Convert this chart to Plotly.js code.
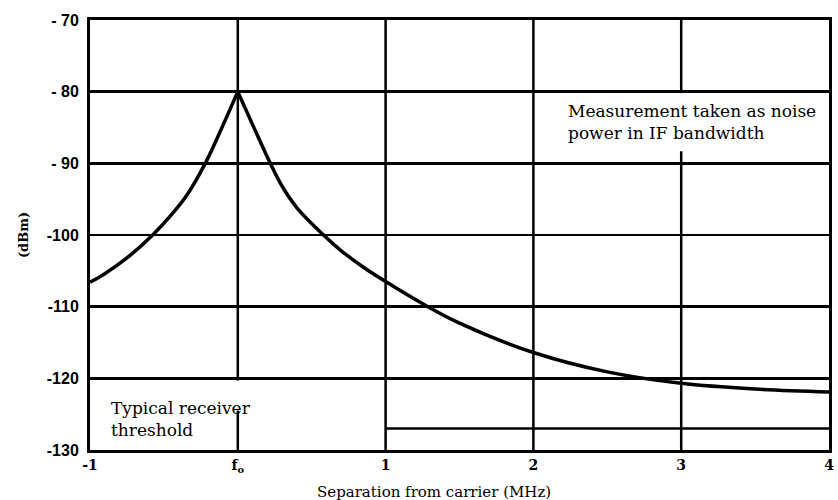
<!DOCTYPE html>
<html>
<head>
<meta charset="utf-8">
<script src="https://cdn.plot.ly/plotly-3.0.1.min.js"></script>
<style>
  html, body { margin: 0; padding: 0; background: #ffffff; }
  #chart { width: 838px; height: 500px; }
</style>
</head>
<body>
<div id="chart"></div>
<script>
// Noise power around the carrier, lower side (f0 - 1 MHz .. f0)
const lowerOffsetMHz = [-1, -0.9, -0.75, -0.576, -0.45, -0.35, -0.22, -0.12, 0];
const lowerPowerDbm  = [-106.6, -105.4, -103.2, -100, -97.2, -94.6, -90, -85.6, -80];

// Upper side (f0 .. f0 + 4 MHz)
const upperOffsetMHz = [0, 0.1, 0.22, 0.3, 0.4, 0.58, 0.7, 0.85, 1, 1.26, 1.5, 2, 2.5, 3, 3.5, 4];
const upperPowerDbm  = [-80, -84.6, -90, -93.2, -96.2, -100, -102.2, -104.5, -106.5, -109.7, -112.3, -116.4, -119.1, -120.7, -121.5, -121.9];

// Typical receiver threshold level
const thresholdOffsetMHz = [1, 4];
const thresholdDbm       = [-127, -127];

// Axis ticks
const xTickValues = [-1, 0, 1, 2, 3, 4];
const xTickLabels = ['-1', 'f<sub>o</sub>', '1', '2', '3', '4'];
const yTickValues = [-70, -80, -90, -100, -110, -120, -130];
const yTickLabels = ['- 70', '- 80', '- 90', '-100', '-110', '-120', '-130'];

// Vertical grid lines, each broken where a text note sits
const verticalGridX = [0, 1, 2, 3];
const verticalGridBreaks = { 0: [-124.5, -120.3], 3: [-88.3, -80.2] };

const ink = '#000000';
const shapes = [];
verticalGridX.forEach(function (x) {
  const gap = verticalGridBreaks[x];
  const pieces = gap ? [[-130, gap[0]], [gap[1], -70]] : [[-130, -70]];
  pieces.forEach(function (p) {
    shapes.push({
      type: 'line', xref: 'x', yref: 'y', layer: 'below',
      x0: x, x1: x, y0: p[0], y1: p[1],
      line: { color: ink, width: 2.5 }
    });
  });
});

const curveLine = { color: ink, width: 3.5, shape: 'spline', smoothing: 1 };
const traces = [
  { x: lowerOffsetMHz, y: lowerPowerDbm, mode: 'lines', line: curveLine, hoverinfo: 'skip' },
  { x: upperOffsetMHz, y: upperPowerDbm, mode: 'lines', line: curveLine, hoverinfo: 'skip' },
  { x: thresholdOffsetMHz, y: thresholdDbm, mode: 'lines',
    line: { color: ink, width: 2.5 }, hoverinfo: 'skip' }
];

const serif = 'DejaVu Serif, serif';
const layout = {
  width: 838, height: 500,
  margin: { l: 90, r: 9, t: 20, b: 50 },
  paper_bgcolor: '#ffffff', plot_bgcolor: '#ffffff',
  showlegend: false,
  shapes: shapes,
  xaxis: {
    range: [-1, 4], showgrid: false, zeroline: false,
    showline: true, mirror: true, linecolor: ink, linewidth: 3,
    tickmode: 'array', tickvals: xTickValues, ticktext: xTickLabels,
    ticks: '', ticklabelstandoff: 0,
    tickfont: { family: serif, size: 14, color: ink, weight: 'bold' }
  },
  yaxis: {
    range: [-130, -70], showgrid: true, gridcolor: ink, gridwidth: 2.5,
    zeroline: false,
    showline: true, mirror: true, linecolor: ink, linewidth: 3,
    tickmode: 'array', tickvals: yTickValues, ticktext: yTickLabels,
    ticks: '', ticklabelstandoff: 5,
    tickfont: { family: 'Liberation Sans, Arial, sans-serif', size: 16, color: ink, weight: 'bold' },
    title: { text: '(dBm)', standoff: 16,
      font: { family: serif, size: 13, color: ink, weight: 'bold' } }
  },
  annotations: [
    { text: 'Measurement taken as noise<br>power in IF bandwidth',
      xref: 'x', yref: 'y', x: 2.22, y: -81, xanchor: 'left', yanchor: 'top',
      align: 'left', showarrow: false,
      font: { family: serif, size: 17, color: ink } },
    { text: 'Typical receiver<br>threshold',
      xref: 'x', yref: 'y', x: -0.87, y: -122.4, xanchor: 'left', yanchor: 'top',
      align: 'left', showarrow: false,
      font: { family: serif, size: 17, color: ink } },
    { text: 'Separation from carrier (MHz)',
      xref: 'paper', yref: 'paper', x: 0.465, y: 0, yshift: -42,
      xanchor: 'center', yanchor: 'middle', showarrow: false,
      font: { family: serif, size: 15, color: ink } }
  ]
};

Plotly.newPlot('chart', traces, layout, { staticPlot: true, displayModeBar: false });
</script>
</body>
</html>
